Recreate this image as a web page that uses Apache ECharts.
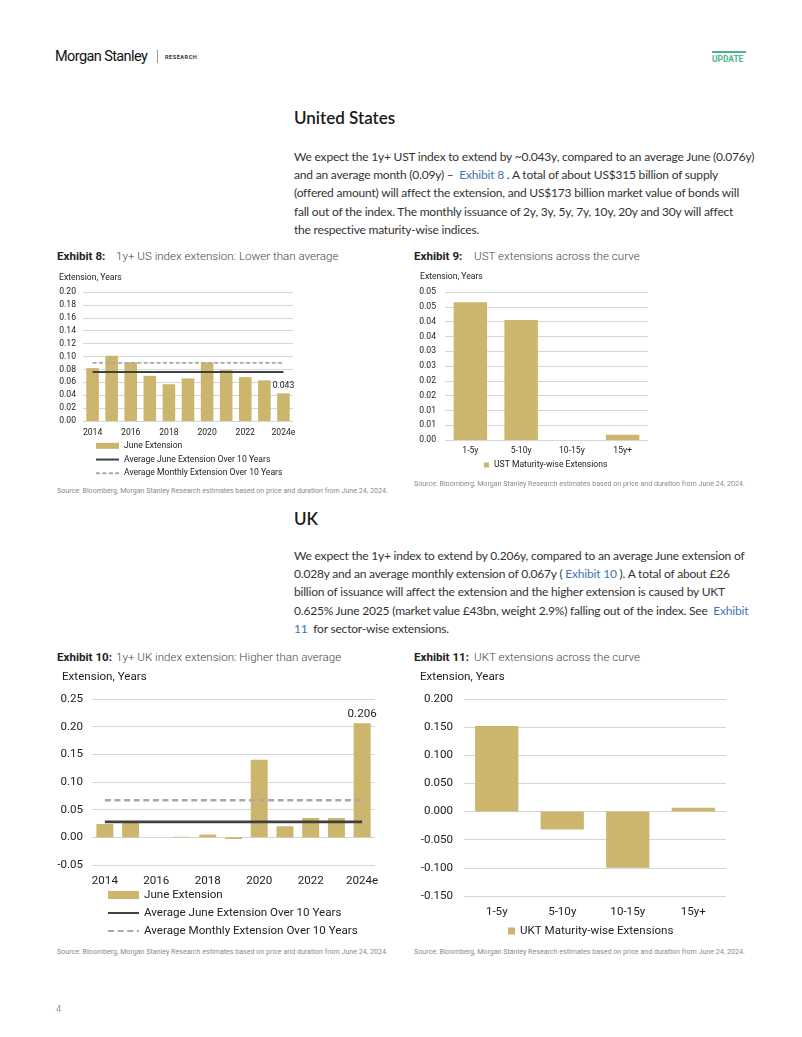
<!DOCTYPE html>
<html>
<head>
<meta charset="utf-8">
<script src="https://cdn.jsdelivr.net/npm/echarts@6/dist/echarts.min.js"></script>
<style>
html,body{margin:0;padding:0;background:#fff;}
#page{position:relative;width:802px;height:1037px;overflow:hidden;background:#fff;font-family:Lato,"Noto Sans",sans-serif;color:#222;}
.abs{position:absolute;white-space:nowrap;}
.h2{font-family:Lato,"Noto Sans",sans-serif;font-weight:600;font-size:17px;color:#1a1a1a;}
.para{font-family:Lato,"Noto Sans",sans-serif;font-size:12px;letter-spacing:-0.2px;line-height:18.2px;color:#333;}
.link{color:#3f74b8;}
.exb{font-family:Roboto,sans-serif;font-size:11.6px;color:#222;font-weight:700;}
.ext{font-family:Roboto,sans-serif;font-size:11.6px;color:#444;font-weight:300;}
.src{font-family:Roboto,sans-serif;font-size:7.1px;color:#8a8a8a;}
.chart{position:absolute;}
</style>
</head>
<body>
<div id="page">
  <div class="abs" style="left:55px;top:48px;font-family:Roboto,sans-serif;font-size:14.5px;color:#111;letter-spacing:-0.6px;">Morgan Stanley</div>
  <div class="abs" style="left:157px;top:50px;width:1px;height:13px;background:#999;"></div>
  <div class="abs" style="left:165px;top:54px;font-family:Roboto,sans-serif;font-size:5.6px;font-weight:700;letter-spacing:0.5px;color:#333;">RESEARCH</div>
  <div class="abs" style="left:712px;top:51px;width:34px;height:2px;background:#4bb58c;"></div>
  <div class="abs" style="left:712px;top:54px;font-family:Roboto,sans-serif;font-size:8.4px;font-weight:700;color:#4bb58c;">UPDATE</div>

  <div class="abs h2" style="left:294px;top:107px;">United States</div>
  <div class="abs para" style="left:294px;top:148px;">
We expect the 1y+ UST index to extend by ~0.043y, compared to an average June (0.076y)<br>
and an average month (0.09y) –&nbsp; <span class="link">Exhibit 8</span> . A total of about US$315 billion of supply<br>
(offered amount) will affect the extension, and US$173 billion market value of bonds will<br>
fall out of the index. The monthly issuance of 2y, 3y, 5y, 7y, 10y, 20y and 30y will affect<br>
the respective maturity-wise indices.
  </div>

  <div class="abs exb" style="left:57px;top:249px;">Exhibit 8:</div>
  <div class="abs ext" style="left:116px;top:249px;">1y+ US index extension: Lower than average</div>
  <div class="abs exb" style="left:414px;top:249px;">Exhibit 9:</div>
  <div class="abs ext" style="left:474px;top:249px;">UST extensions across the curve</div>

  <div class="chart" id="c8" style="left:50px;top:265px;width:300px;height:220px;"></div>
  <div class="chart" id="c9" style="left:405px;top:265px;width:345px;height:215px;"></div>

  <div class="abs src" style="left:57px;top:486px;">Source: Bloomberg, Morgan Stanley Research estimates based on price and duration from June 24, 2024.</div>
  <div class="abs src" style="left:414px;top:479px;">Source: Bloomberg, Morgan Stanley Research estimates based on price and duration from June 24, 2024.</div>

  <div class="abs h2" style="left:294px;top:508px;">UK</div>
  <div class="abs para" style="left:294px;top:547px;">
We expect the 1y+ index to extend by 0.206y, compared to an average June extension of<br>
0.028y and an average monthly extension of 0.067y ( <span class="link">Exhibit 10</span> ). A total of about £26<br>
billion of issuance will affect the extension and the higher extension is caused by UKT<br>
0.625% June 2025 (market value £43bn, weight 2.9%) falling out of the index. See&nbsp; <span class="link">Exhibit</span><br>
<span class="link">11</span>&nbsp; for sector-wise extensions.
  </div>

  <div class="abs exb" style="left:57px;top:650px;">Exhibit 10:</div>
  <div class="abs ext" style="left:116px;top:650px;">1y+ UK index extension: Higher than average</div>
  <div class="abs exb" style="left:414px;top:650px;">Exhibit 11:</div>
  <div class="abs ext" style="left:474px;top:650px;">UKT extensions across the curve</div>

  <div class="chart" id="c10" style="left:50px;top:665px;width:345px;height:280px;"></div>
  <div class="chart" id="c11" style="left:405px;top:665px;width:345px;height:280px;"></div>

  <div class="abs src" style="left:57px;top:947px;">Source: Bloomberg, Morgan Stanley Research estimates based on price and duration from June 24, 2024.</div>
  <div class="abs src" style="left:414px;top:947px;">Source: Bloomberg, Morgan Stanley Research estimates based on price and duration from June 24, 2024.</div>

  <div class="abs" style="left:56px;top:1004px;font-family:Roboto,sans-serif;font-size:9px;color:#999;">4</div>
</div>

<script>
// ---------- DATA ----------
var years = ['2014','2015','2016','2017','2018','2019','2020','2021','2022','2023','2024e'];
var usJune = [0.082, 0.101, 0.091, 0.070, 0.057, 0.066, 0.091, 0.079, 0.068, 0.063, 0.043];
var usAvgJune = 0.076;
var usAvgMonthly = 0.090;

var usBuckets = ['1-5y','5-10y','10-15y','15y+'];
var usBucketExt = [0.0465, 0.0405, 0.0, 0.0018];

var ukJune = [0.024, 0.029, 0.000, 0.001, 0.005, -0.003, 0.140, 0.020, 0.035, 0.035, 0.206];
var ukAvgJune = 0.028;
var ukAvgMonthly = 0.067;

var ukBuckets = ['1-5y','5-10y','10-15y','15y+'];
var ukBucketExt = [0.152, -0.032, -0.100, 0.007];

var seriesNames = ['June Extension','Average June Extension Over 10 Years','Average Monthly Extension Over 10 Years'];
var usBucketName = 'UST Maturity-wise Extensions';
var ukBucketName = 'UKT Maturity-wise Extensions';
var yTitle = 'Extension, Years';

// ---------- STYLE ----------
var GOLD = '#ccb56c';
var DARK = '#404040';
var DASH = '#a8a8a8';
var GRID = '#d6d6d6';
var TXT = '#222';
var FONT = 'Roboto';

function fill(v, n){ var a=[]; for(var i=0;i<n;i++) a.push(v); return a; }
function fmt2(v){ return (Math.round(v*100 + 1e-7)/100).toFixed(2); }

function yearChart(el, cfg){
  var c = echarts.init(document.getElementById(el), null, {renderer:'canvas'});
  var lastIdx = cfg.values.length-1;
  var barData = cfg.values.map(function(v,i){
    return i===lastIdx ? {value:v, label:{show:true, position:'top', distance:cfg.labDist, formatter:function(p){return p.value.toFixed(3);}, fontSize:cfg.fs, fontFamily:FONT, color:TXT}} : v;
  });
  c.setOption({
    animation:false,
    textStyle:{fontFamily:FONT},
    grid:cfg.grid,
    graphic:[{type:'text', left:cfg.tx, top:cfg.ty, style:{text:yTitle, fontSize:cfg.fs, fontFamily:FONT, fill:TXT}}],
    legend:{orient:'vertical', left:cfg.lgLeft, top:cfg.lgTop, padding:0, itemGap:cfg.lgGap,
      itemWidth:cfg.iw, itemHeight:cfg.ih,
      textStyle:{fontSize:cfg.fs, fontFamily:FONT, color:TXT, lineHeight:cfg.lh},
      data:[{name:seriesNames[0], icon:'rect'},
            {name:seriesNames[1], itemStyle:{opacity:0}},
            {name:seriesNames[2], itemStyle:{opacity:0}}]},
    xAxis:{type:'category', data:years, axisLine:{show:false, onZero:false}, axisTick:{show:false},
      axisLabel:{interval:1, fontSize:cfg.fs, color:TXT, margin:cfg.xm, fontFamily:FONT}},
    yAxis:{type:'value', min:cfg.min, max:cfg.max, interval:cfg.iv,
      axisLabel:{formatter:function(v){return fmt2(v);}, fontSize:cfg.fs, color:TXT, margin:cfg.ym, fontFamily:FONT},
      splitLine:{lineStyle:{color:GRID, width:1}}, axisLine:{show:false}, axisTick:{show:false}},
    series:[
      {name:seriesNames[0], type:'bar', data:barData, barCategoryGap:'34%', itemStyle:{color:GOLD}, z:2},
      {name:seriesNames[1], type:'line', data:fill(cfg.avgJune, years.length), symbol:'none', lineStyle:{color:DARK, width:cfg.lw}, itemStyle:{color:DARK}, z:4},
      {name:seriesNames[2], type:'line', data:fill(cfg.avgMonthly, years.length), symbol:'none', lineStyle:{color:DASH, width:cfg.lw, type:[cfg.dash, cfg.dash*0.6]}, itemStyle:{color:DASH}, z:3}
    ]
  });
}

function bucketChart(el, cfg){
  var c = echarts.init(document.getElementById(el), null, {renderer:'canvas'});
  c.setOption({
    animation:false,
    textStyle:{fontFamily:FONT},
    grid:cfg.grid,
    graphic:[{type:'text', left:cfg.tx, top:cfg.ty, style:{text:yTitle, fontSize:cfg.fs, fontFamily:FONT, fill:TXT}}],
    legend:{left:cfg.lgLeft, top:cfg.lgTop, padding:0, itemWidth:cfg.iw, itemHeight:cfg.iw, icon:'rect',
      textStyle:{fontSize:cfg.fs, fontFamily:FONT, color:TXT, lineHeight:cfg.lh}},
    xAxis:{type:'category', data:cfg.cats, axisLine:{show:false, onZero:false}, axisTick:{show:false},
      axisLabel:{fontSize:cfg.fs, color:TXT, margin:cfg.xm, fontFamily:FONT}},
    yAxis:{type:'value', min:cfg.min, max:cfg.max, interval:cfg.iv,
      axisLabel:{formatter:cfg.fmt, fontSize:cfg.fs, color:TXT, margin:cfg.ym, fontFamily:FONT},
      splitLine:{lineStyle:{color:GRID, width:1}}, axisLine:{show:false}, axisTick:{show:false}},
    series:[{name:cfg.name, type:'bar', data:cfg.values, barCategoryGap:'34%', itemStyle:{color:GOLD}}]
  });
}

yearChart('c8', {
  values:usJune, avgJune:usAvgJune, avgMonthly:usAvgMonthly,
  grid:{left:33, top:27, width:210, height:129},
  min:0, max:0.2, iv:0.02, fs:8.6, lh:13.7, lgGap:0, lgLeft:45, lgTop:174, iw:23, ih:6,
  tx:9, ty:8, xm:7, ym:7, lw:1.8, dash:4, labDist:3
});

bucketChart('c9', {
  cats:usBuckets, values:usBucketExt, name:usBucketName,
  grid:{left:40, top:27, width:203, height:148},
  min:0, max:0.05, iv:0.005, fs:8.6, lh:12, lgLeft:79, lgTop:194, iw:5,
  tx:15, ty:7, xm:6, ym:9, fmt:function(v){return fmt2(v);}
});

yearChart('c10', {
  values:ukJune, avgJune:ukAvgJune, avgMonthly:ukAvgMonthly,
  grid:{left:42, top:34, width:283, height:166},
  min:-0.05, max:0.25, iv:0.05, fs:11.6, lh:18, lgGap:0, lgLeft:57, lgTop:221, iw:31, ih:8,
  tx:12, ty:6, xm:10, ym:9, lw:2.6, dash:6, labDist:3
});

bucketChart('c11', {
  cats:ukBuckets, values:ukBucketExt, name:ukBucketName,
  grid:{left:59, top:34, width:262, height:197},
  min:-0.15, max:0.2, iv:0.05, fs:11.6, lh:16, lgLeft:103, lgTop:258, iw:7,
  tx:15, ty:6, xm:10, ym:11, fmt:function(v){return (Math.round(v*1000)/1000).toFixed(3);}
});
</script>
</body>
</html>
